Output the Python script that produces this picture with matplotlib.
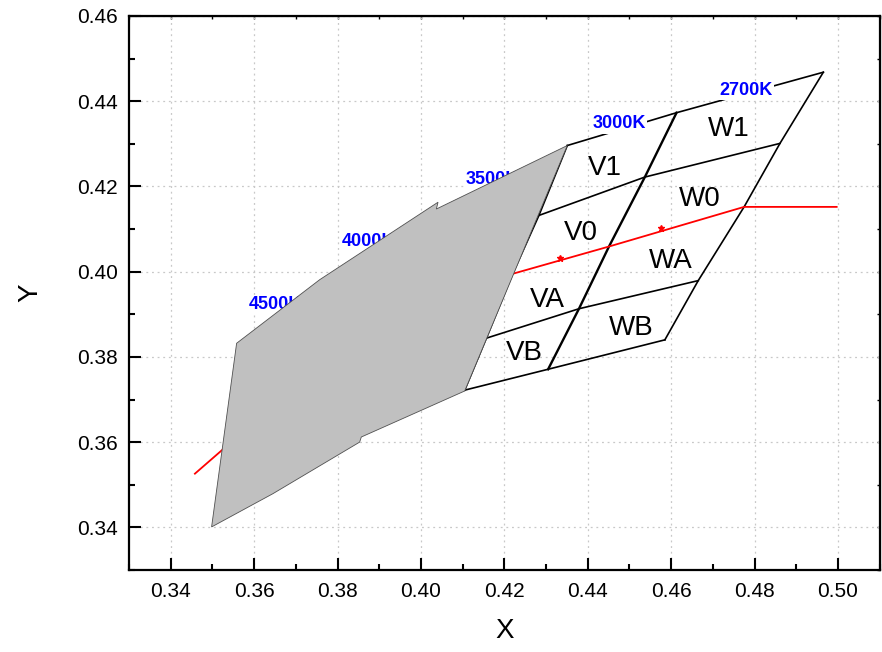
import matplotlib.pyplot as plt
from matplotlib.patches import Polygon
from matplotlib.ticker import MultipleLocator, FormatStrFormatter, NullFormatter

plt.rcParams['font.family'] = ['Liberation Sans', 'DejaVu Sans']

# bin grid boundaries (chromaticity x, y)
top_x = [0.4351, 0.4613, 0.4965]
top_y = [0.4296, 0.4373, 0.4468]
row1_x = [0.4283, 0.4537, 0.4861]
row1_y = [0.4132, 0.4222, 0.4301]
row3_x = [0.4157, 0.4379, 0.4665]
row3_y = [0.3844, 0.3913, 0.3979]
bottom_x = [0.4105, 0.4305, 0.4585]
bottom_y = [0.3722, 0.3771, 0.3840]
left_x = [0.4351, 0.4283, 0.4220, 0.4157, 0.4105]
left_y = [0.4296, 0.4132, 0.3995, 0.3844, 0.3722]
mid_x = [0.4613, 0.4537, 0.4451, 0.4379, 0.4305]
mid_y = [0.4373, 0.4222, 0.4059, 0.3913, 0.3771]
right_x = [0.4965, 0.4861, 0.4775, 0.4665, 0.4585]
right_y = [0.4468, 0.4301, 0.4152, 0.3979, 0.3840]

# blackbody locus (red) and its star points
locus_x = [0.3458, 0.3525, 0.4220, 0.4451, 0.4775, 0.4997]
locus_y = [0.3526, 0.3583, 0.3995, 0.4059, 0.4152, 0.4152]
star_x = [0.4333, 0.4575]
star_y = [0.4032, 0.4102]

# grey area covering the cooler bins
gray_x = [0.3498, 0.3558, 0.3757, 0.4041, 0.4037, 0.4351, 0.4105, 0.3857, 0.3853, 0.3645]
gray_y = [0.3401, 0.3832, 0.3981, 0.4163, 0.4147, 0.4296, 0.3720, 0.3612, 0.3600, 0.3479]

cct_names = ['2700K', '3000K', '3500K', '4000K', '4500K']
cct_x = [0.4780, 0.4475, 0.4172, 0.3873, 0.3651]
cct_y = [0.4425, 0.4347, 0.4216, 0.4071, 0.3922]

bin_names = ['W1', 'V1', 'W0', 'V0', 'WA', 'VA', 'WB', 'VB']
bin_x = [0.4738, 0.4441, 0.4668, 0.4383, 0.4600, 0.4303, 0.4505, 0.4247]
bin_y = [0.4334, 0.4244, 0.4171, 0.4091, 0.4024, 0.3934, 0.3867, 0.3808]

fig = plt.figure(figsize=(8.82, 6.52), dpi=100)
ax = fig.add_axes([0.1463, 0.1258, 0.851, 0.8497])

for xs, ys in [(top_x, top_y), (row1_x, row1_y), (row3_x, row3_y),
               (bottom_x, bottom_y), (left_x, left_y), (right_x, right_y)]:
    ax.plot(xs, ys, color='black', lw=1.2, zorder=2)
ax.plot(mid_x, mid_y, color='black', lw=1.7, zorder=2)

ax.plot(locus_x, locus_y, color='red', lw=1.3, zorder=3)
ax.plot(star_x, star_y, ls='none', marker='*', ms=5, color='red', zorder=3)

for name, x, y in zip(cct_names, cct_x, cct_y):
    ax.text(x, y, name, color='blue', fontsize=13, fontweight='bold',
            ha='center', va='center', zorder=4,
            bbox=dict(facecolor='white', edgecolor='none', pad=1))

ax.add_patch(Polygon(list(zip(gray_x, gray_y)), closed=True, facecolor='#c0c0c0',
                     edgecolor='#505050', lw=0.6, zorder=5))

for name, x, y in zip(bin_names, bin_x, bin_y):
    ax.text(x, y, name, fontsize=20, ha='center', va='center', zorder=6)

# small green marker clipped at top of the figure
ax.plot([0.3733], [0.4655], 'o', color='#90d890', ms=8, clip_on=False, zorder=1)

ax.set_xlim(0.33, 0.51)
ax.set_ylim(0.33, 0.46)
ax.xaxis.set_major_locator(MultipleLocator(0.02))
ax.xaxis.set_minor_locator(MultipleLocator(0.01))
ax.yaxis.set_major_locator(MultipleLocator(0.02))
ax.yaxis.set_minor_locator(MultipleLocator(0.01))
ax.xaxis.set_major_formatter(FormatStrFormatter('%.2f'))
ax.yaxis.set_major_formatter(FormatStrFormatter('%.2f'))
ax.tick_params(which='both', direction='in', width=1.5, labelsize=15)
ax.tick_params(which='major', length=8.5)
ax.tick_params(which='minor', length=4.5)
ax.tick_params(axis='x', pad=9)
ax.tick_params(axis='y', pad=8)
for s in ax.spines.values():
    s.set_linewidth(1.6)
ax.grid(True, which='major', ls=(0, (1.5, 3)), color='#c8c8c8', lw=0.9)
ax.set_axisbelow(True)

# short ticks on top and right, no labels
sec_x = ax.secondary_xaxis('top')
sec_x.xaxis.set_major_locator(MultipleLocator(0.01))
sec_x.xaxis.set_major_formatter(NullFormatter())
sec_x.tick_params(direction='in', length=2.5, width=1)
sec_y = ax.secondary_yaxis('right')
sec_y.yaxis.set_major_locator(MultipleLocator(0.01))
sec_y.yaxis.set_major_formatter(NullFormatter())
sec_y.tick_params(direction='in', length=2.5, width=1)

ax.set_xlabel('X', fontsize=20, labelpad=12)
ax.set_ylabel('Y', fontsize=20, labelpad=24)

fig.savefig('out.png', dpi=100)
